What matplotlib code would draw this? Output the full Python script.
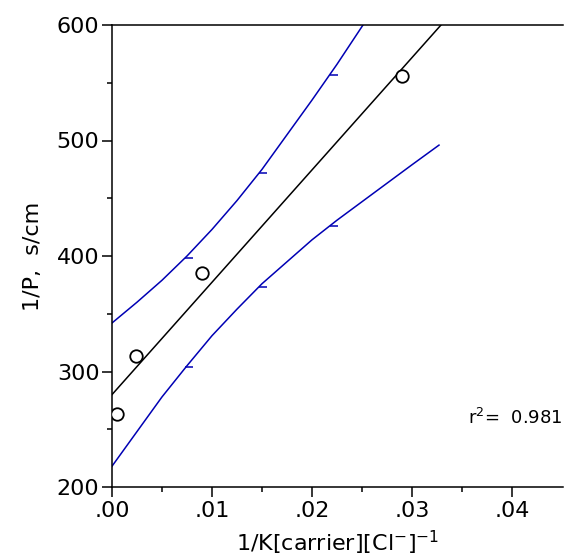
import numpy as np
import matplotlib
matplotlib.use('Agg')
import matplotlib.pyplot as plt
from matplotlib.ticker import FixedLocator, FuncFormatter

# measured points
x_pts = [0.0005, 0.0024, 0.0090, 0.0290]
y_pts = [263, 313, 385, 556]

# regression line
fit_x = [0.0, 0.0329]
fit_y = [280, 600]

# confidence band
band_up_x = [0.0, 0.0025, 0.005, 0.0075, 0.010, 0.0125, 0.015, 0.0175, 0.020, 0.0225, 0.0251]
band_up_y = [342, 360, 379, 400, 423, 448, 475, 505, 535, 566, 600]
band_lo_x = [0.0, 0.0025, 0.005, 0.0075, 0.010, 0.0125, 0.015, 0.0175, 0.020, 0.0225, 0.025, 0.0275, 0.030, 0.0327]
band_lo_y = [218, 248, 278, 305, 331, 354, 376, 395, 414, 431, 447, 463, 479, 496]

# little tick marks on the bands
mark_x = [0.0073, 0.0147, 0.0218]
mark_up = [398, 472, 557]
mark_lo = [304, 373, 426]

r2 = 0.981

fig = plt.figure(figsize=(5.64, 5.58), dpi=100)
ax = fig.add_axes([112/564, 71/558, 451/564, 462/558])

ax.plot(fit_x, fit_y, color='black', lw=1.1, zorder=3)
ax.plot(band_up_x, band_up_y, color='#0000b4', lw=1.1)
ax.plot(band_lo_x, band_lo_y, color='#0000b4', lw=1.1)
ax.plot(mark_x, mark_up, ls='none', marker=1, ms=6, mew=1.1, color='#0000b4')
ax.plot(mark_x, mark_lo, ls='none', marker=1, ms=6, mew=1.1, color='#0000b4')
ax.plot(x_pts, y_pts, ls='none', marker='o', ms=9, mfc='white', mec='black', mew=1.3, zorder=4)

ax.set_xlim(0, 0.0451)
ax.set_ylim(200, 600)

ax.xaxis.set_major_locator(FixedLocator([0, 0.01, 0.02, 0.03, 0.04]))
ax.xaxis.set_minor_locator(FixedLocator([0.005, 0.015, 0.025, 0.035]))
ax.yaxis.set_major_locator(FixedLocator([200, 300, 400, 500, 600]))
ax.yaxis.set_minor_locator(FixedLocator([250, 350, 450, 550]))
ax.xaxis.set_major_formatter(FuncFormatter(lambda v, p: ('%.2f' % v)[1:]))

ax.tick_params(which='major', direction='out', length=7, width=1.1, labelsize=16, pad=2, color='black')
ax.tick_params(which='minor', direction='out', length=3.5, width=1.1)
ax.tick_params(axis='x', pad=3)

ax.spines['right'].set_visible(False)
for s in ['left', 'bottom', 'top']:
    ax.spines[s].set_linewidth(1.1)

ax.set_ylabel('1/P,  s/cm', fontsize=16, labelpad=10)
ax.set_xlabel('1/K[carrier][Cl$^{-}$]$^{-1}$', fontsize=16, labelpad=6)

ax.text(0.0450, 260, 'r$^{2}$=  %.3f' % r2, fontsize=13, ha='right', va='center')

fig.savefig('out.png', dpi=100)
